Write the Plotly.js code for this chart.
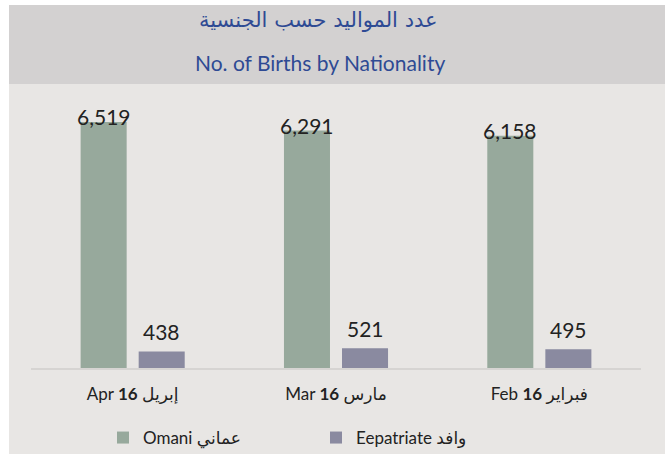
<!DOCTYPE html>
<html><head><meta charset="utf-8">
<script src="https://cdn.plot.ly/plotly-3.0.1.min.js"></script>
<style>html,body{margin:0;padding:0;background:#fff;}#chart{width:665px;height:454px;}</style>
</head><body><div id="chart"></div>
<script>
const categories = ["Apr <b>16</b> إبريل", "Mar <b>16</b> مارس", "Feb <b>16</b> فبراير"];
const omaniValues = [6519, 6291, 6158];
const expatValues = [438, 521, 495];
const omaniName = "Omani عماني";
const expatName = "Eepatriate وافد";
const titleAr = "عدد المواليد حسب الجنسية";
const titleEn = "No. of Births by Nationality";

const FONT = "Lato, 'DejaVu Sans', sans-serif";
const fmt = v => v.toLocaleString('en-US');
const L = 31, W = 610, T = 85, H = 283;
const px = p => (p - L) / W;
const py = p => 1 - (p - T) / H;

const traces = [
  {type:'bar', name: omaniName, x: categories, y: omaniValues, marker:{color:'#97a99c'}, hoverinfo:'none'},
  {type:'bar', name: expatName, x: categories, y: expatValues, marker:{color:'#8a8aa0'}, hoverinfo:'none'}
];

const annotations = [];
categories.forEach((c, i) => {
  annotations.push({x:c, y:omaniValues[i], xref:'x', yref:'y', text: fmt(omaniValues[i]), showarrow:false,
    xshift:-29, yanchor:'bottom', yshift:-9, font:{family:FONT, size:21, color:'#222'}});
  annotations.push({x:c, y:expatValues[i], xref:'x', yref:'y', text: fmt(expatValues[i]), showarrow:false,
    xshift:29, yanchor:'bottom', yshift:5, font:{family:FONT, size:21, color:'#222'}});
});
annotations.push({xref:'paper', yref:'paper', x:px(318), y:py(20), text:titleAr, showarrow:false,
  xanchor:'center', yanchor:'middle', font:{family:"'DejaVu Sans', sans-serif", size:21, color:'#2e4a94'}});
annotations.push({xref:'paper', yref:'paper', x:px(320), y:py(63), text:titleEn, showarrow:false,
  xanchor:'center', yanchor:'middle', font:{family:FONT, size:21, color:'#2e4a94'}});

const layout = {
  width:665, height:454,
  margin:{l:L, r:665-L-W, t:T, b:454-T-H, autoexpand:false},
  paper_bgcolor:'#ffffff', plot_bgcolor:'rgba(0,0,0,0)',
  barmode:'group', bargap:0.429, bargroupgap:0.207,
  showlegend:true,
  legend:{orientation:'h', x:px(103), xanchor:'left', y:py(438), yanchor:'middle',
    font:{family:FONT, size:17, color:'#222'}, bgcolor:'rgba(0,0,0,0)', traceorder:'normal', itemwidth:30,
    entrywidth:168, entrywidthmode:'pixels'},
  xaxis:{type:'category', showgrid:false, zeroline:false, showline:true, linecolor:'#d6d4d2', linewidth:2,
    ticks:'', ticklabelstandoff:10, tickfont:{family:FONT, size:17, color:'#222'}, fixedrange:true, automargin:false},
  yaxis:{range:[0,7500], visible:false, showgrid:false, zeroline:false, fixedrange:true, automargin:false},
  shapes:[
    {type:'rect', xref:'paper', yref:'paper', x0:px(9), x1:px(666), y0:py(454), y1:py(84),
      fillcolor:'#e8e6e4', line:{width:0}, layer:'below'},
    {type:'rect', xref:'paper', yref:'paper', x0:px(9), x1:px(666), y0:py(84), y1:py(5),
      fillcolor:'#d3d1d1', line:{width:0}, layer:'below'}
  ],
  annotations: annotations
};
Plotly.newPlot('chart', traces, layout, {displayModeBar:false, staticPlot:true});
</script></body></html>
